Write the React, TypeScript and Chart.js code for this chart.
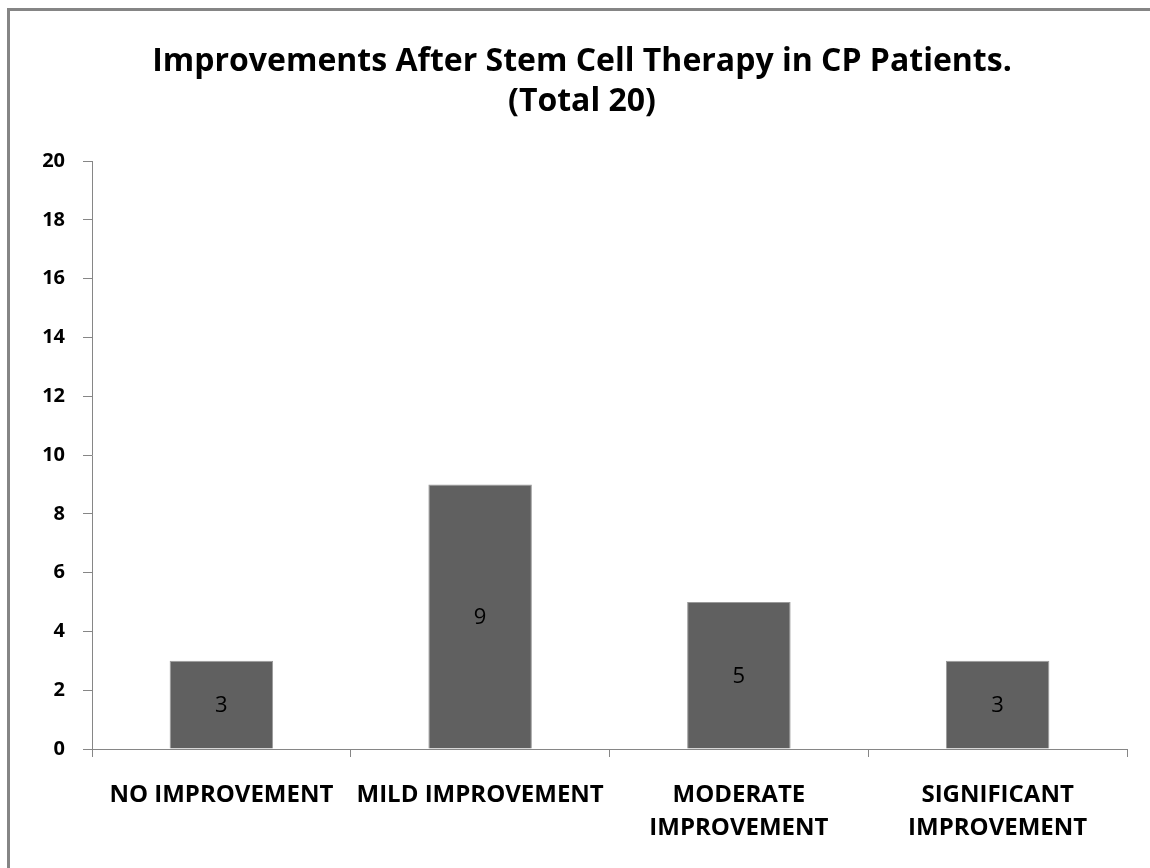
import React, { useEffect, useRef } from "react";
import { Chart, registerables } from "chart.js";

Chart.register(...registerables);

const titleLines = ["Improvements After Stem Cell Therapy in CP Patients.", "(Total 20)"];
const categories: string[][] = [
  ["NO IMPROVEMENT"],
  ["MILD IMPROVEMENT"],
  ["MODERATE", "IMPROVEMENT"],
  ["SIGNIFICANT", "IMPROVEMENT"],
];
const patientCounts = [3, 9, 5, 3];
const yMin = 0;
const yMax = 20;
const yStep = 2;

const FONT = "'Open Sans', 'DejaVu Sans', sans-serif";
const AXIS_COLOR = "#868686";

const titlePlugin = {
  id: "centeredTitle",
  afterDraw(chart: any) {
    const ctx = chart.ctx;
    ctx.save();
    ctx.font = `bold 32px ${FONT}`;
    ctx.fillStyle = "#000000";
    ctx.textAlign = "center";
    ctx.textBaseline = "middle";
    const cx = (8 + chart.width) / 2 + 3;
    titleLines.forEach((line, i) => {
      ctx.fillText(line, cx, 62 + i * 40);
    });
    ctx.restore();
  },
};

const barLabelPlugin = {
  id: "barLabels",
  afterDatasetsDraw(chart: any) {
    const ctx = chart.ctx;
    const meta = chart.getDatasetMeta(0);
    const data = chart.data.datasets[0].data;
    ctx.save();
    ctx.font = `400 22px ${FONT}`;
    ctx.fillStyle = "#000000";
    ctx.textAlign = "center";
    ctx.textBaseline = "middle";
    meta.data.forEach((bar: any, i: number) => {
      const y = (bar.y + bar.base) / 2 + 1;
      ctx.fillText(String(data[i]), bar.x, y);
    });
    ctx.restore();
  },
};

export default function App() {
  const canvasRef = useRef<HTMLCanvasElement | null>(null);

  useEffect(() => {
    if (!canvasRef.current) return;
    const chart = new Chart(canvasRef.current, {
      type: "bar",
      data: {
        labels: categories,
        datasets: [
          {
            data: patientCounts,
            backgroundColor: "#606060",
            borderColor: "#9a9a9a",
            borderWidth: 1,
            barPercentage: 0.4,
            categoryPercentage: 1,
          },
        ],
      },
      options: {
        responsive: false,
        animation: false,
        layout: { padding: { left: 0, right: 23, top: 161, bottom: 0 } },
        plugins: {
          legend: { display: false },
          tooltip: { enabled: false },
          title: { display: false },
        },
        scales: {
          x: {
            offset: true,
            grid: {
              offset: true,
              drawOnChartArea: false,
              drawTicks: true,
              tickLength: 8,
              color: AXIS_COLOR,
            },
            border: { color: AXIS_COLOR, width: 1 },
            ticks: {
              color: "#000000",
              font: { family: FONT, size: 24, weight: "bold", lineHeight: 33 / 24 },
              padding: 22,
              maxRotation: 0,
              autoSkip: false,
            },
            afterFit(scale: any) {
              scale.height = 119;
            },
          },
          y: {
            min: yMin,
            max: yMax,
            grid: {
              drawOnChartArea: false,
              drawTicks: true,
              tickLength: 9,
              color: AXIS_COLOR,
            },
            border: { color: AXIS_COLOR, width: 1 },
            ticks: {
              stepSize: yStep,
              color: "#000000",
              font: { family: FONT, size: 20, weight: "bold" },
              padding: 18,
            },
            afterFit(scale: any) {
              scale.width = 92;
            },
          },
        },
      },
      plugins: [barLabelPlugin, titlePlugin],
    });
    return () => chart.destroy();
  }, []);

  return (
    <div
      style={{
        position: "fixed",
        left: 0,
        top: 0,
        width: 1150,
        height: 868,
        background: "#ffffff",
        overflow: "hidden",
      }}
    >
      <canvas ref={canvasRef} width={1150} height={868} style={{ display: "block" }} />
      <div
        style={{
          position: "absolute",
          left: 7,
          top: 8,
          width: 1200,
          height: 900,
          borderLeft: "3px solid #858585",
          borderTop: "3px solid #858585",
          boxSizing: "border-box",
          pointerEvents: "none",
        }}
      />
    </div>
  );
}
